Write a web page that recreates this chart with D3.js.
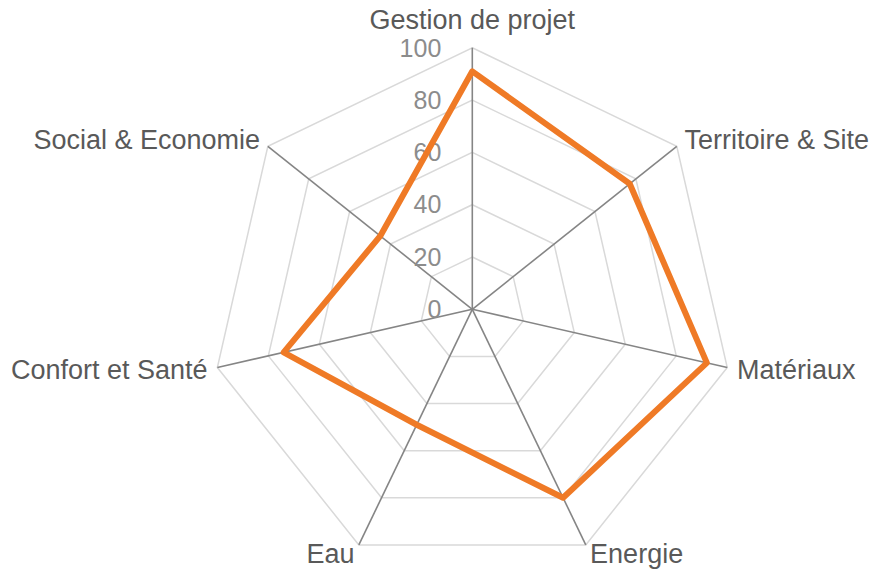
<!DOCTYPE html>
<html>
<head>
<meta charset="utf-8">
<script src="https://cdn.jsdelivr.net/npm/d3@7"></script>
<style>
  html, body { margin: 0; padding: 0; background: #fff; }
  svg { display: block; }
</style>
</head>
<body>
<svg id="chart" width="874" height="571"></svg>
<script>
// Radar chart: scores per theme (0–100)
const categories = ["Gestion de projet", "Territoire & Site", "Matériaux", "Energie", "Eau", "Confort et Santé", "Social & Economie"];
const scores = [91, 77, 92, 80, 49, 74, 45];
const tickValues = [0, 20, 40, 60, 80, 100];

const width = 874, height = 571;
const cx = 472.3, cy = 309.3, R = 261.5;

const svg = d3.select("#chart");
const g = svg.append("g").attr("transform", `translate(${cx},${cy})`);

const r = d3.scaleLinear().domain([0, 100]).range([0, R]);
const angle = d3.scalePoint().domain(categories).range([0, 2 * Math.PI * (categories.length - 1) / categories.length]);

const font = "'Liberation Sans', Arial, sans-serif";

// Concentric gridline polygons
const ring = d3.lineRadial()
  .angle(d => angle(d))
  .curve(d3.curveLinearClosed);

g.selectAll("path.grid")
  .data(tickValues.filter(v => v > 0))
  .join("path")
  .attr("class", "grid")
  .attr("d", v => ring.radius(() => r(v))(categories))
  .attr("fill", "none")
  .attr("stroke", "#d9d9d9")
  .attr("stroke-width", 1.5);

// Spokes
g.selectAll("line.axis")
  .data(categories)
  .join("line")
  .attr("class", "axis")
  .attr("x1", 0).attr("y1", 0)
  .attr("x2", d => Math.sin(angle(d)) * r(100))
  .attr("y2", d => -Math.cos(angle(d)) * r(100))
  .attr("stroke", "#858585")
  .attr("stroke-width", 1.6);

// Value tick labels along the vertical axis
g.selectAll("text.tick")
  .data(tickValues)
  .join("text")
  .attr("class", "tick")
  .attr("x", -31)
  .attr("y", v => -r(v))
  .attr("dy", "0.35em")
  .attr("text-anchor", "end")
  .attr("font-family", font)
  .attr("font-size", 25)
  .attr("fill", "#8c8c8c")
  .text(v => v);

// Category labels
g.selectAll("text.cat")
  .data(categories)
  .join("text")
  .attr("class", "cat")
  .each(function (d) {
    const a = angle(d);
    const s = Math.sin(a), c = Math.cos(a);
    const rr = R + 10;
    let x = s * rr, y = -c * rr;
    let anchor = s > 0.1 ? "start" : (s < -0.1 ? "end" : "middle");
    if (c > 0.95) y -= 18;
    d3.select(this)
      .attr("x", x)
      .attr("y", y)
      .attr("dy", "0.35em")
      .attr("text-anchor", anchor);
  })
  .attr("font-family", font)
  .attr("font-size", 27)
  .attr("fill", "#595959")
  .text(d => d);

// Score polygon
const scoreLine = d3.lineRadial()
  .angle((d, i) => angle(categories[i]))
  .radius(d => r(d))
  .curve(d3.curveLinearClosed);

g.append("path")
  .datum(scores)
  .attr("d", scoreLine)
  .attr("fill", "none")
  .attr("stroke", "#ef7a26")
  .attr("stroke-width", 6)
  .attr("stroke-linejoin", "round");
</script>
</body>
</html>
